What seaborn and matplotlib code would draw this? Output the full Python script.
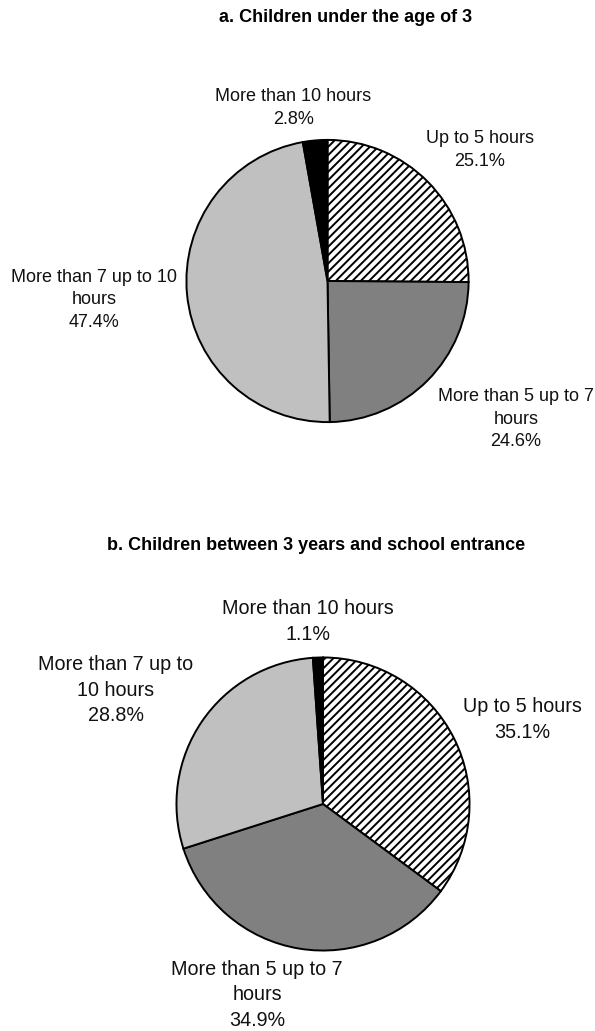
import matplotlib
matplotlib.use("Agg")
import matplotlib.pyplot as plt
import seaborn as sns

# datos de las dos tortas
categorias = ["Up to 5 hours", "More than 5 up to 7 hours",
              "More than 7 up to 10 hours", "More than 10 hours"]
valores_a = [25.1, 24.6, 47.4, 2.8]
valores_b = [35.1, 34.9, 28.8, 1.1]

etiquetas_a = ["Up to 5 hours", "More than 5 up to 7\nhours",
               "More than 7 up to 10\nhours", "More than 10 hours"]
etiquetas_b = ["Up to 5 hours", "More than 5 up to 7\nhours",
               "More than 7 up to\n10 hours", "More than 10 hours"]

titulo_a = "a. Children under the age of 3"
titulo_b = "b. Children between 3 years and school entrance"

sns.set_theme(style="white")
plt.rcParams['font.family'] = ['Liberation Sans', 'DejaVu Sans']
plt.rcParams['hatch.linewidth'] = 1.4
plt.rcParams['hatch.color'] = 'black'

colores = ["white", "#808080", "#C0C0C0", "black"]
tramas = ["////", None, None, None]

W, H = 595, 1031
fig = plt.figure(figsize=(W / 100, H / 100), dpi=100)


def torta(cx, cy, r, valores, etiquetas, pos_etq, fs):
    ax = fig.add_axes([(cx - r) / W, (H - cy - r) / H, 2 * r / W, 2 * r / H])
    cunas, _ = ax.pie(valores, colors=colores, startangle=90, counterclock=False,
                      wedgeprops=dict(edgecolor="black", linewidth=1.4))
    for c, t in zip(cunas, tramas):
        if t:
            c.set_hatch(t)
    ax.set_xlim(-1.01, 1.01)
    ax.set_ylim(-1.01, 1.01)
    ax.set_aspect("equal")
    ax.axis("off")
    for etq, v, (x, y) in zip(etiquetas, valores, pos_etq):
        fig.text(x / W, 1 - y / H, f"{etq}\n{v:.1f}%", ha="center", va="center",
                 fontsize=fs, linespacing=1.42, color="#111111")


# gráfico a
fig.text(346 / W, 1 - 18 / H, titulo_a, ha="center", va="center",
         fontsize=13, fontweight="bold", color="black")
torta(327.5, 281, 142.5, valores_a, etiquetas_a,
      [(480, 150), (516, 419), (94, 300), (293.5, 108)], 13)

# gráfico b
fig.text(316 / W, 1 - 545 / H, titulo_b, ha="center", va="center",
         fontsize=13, fontweight="bold", color="black")
torta(323, 804, 148, valores_b, etiquetas_b,
      [(522, 719.5), (257, 995), (116, 690), (308, 621.5)], 14.2)

fig.savefig("out.png", dpi=100)
